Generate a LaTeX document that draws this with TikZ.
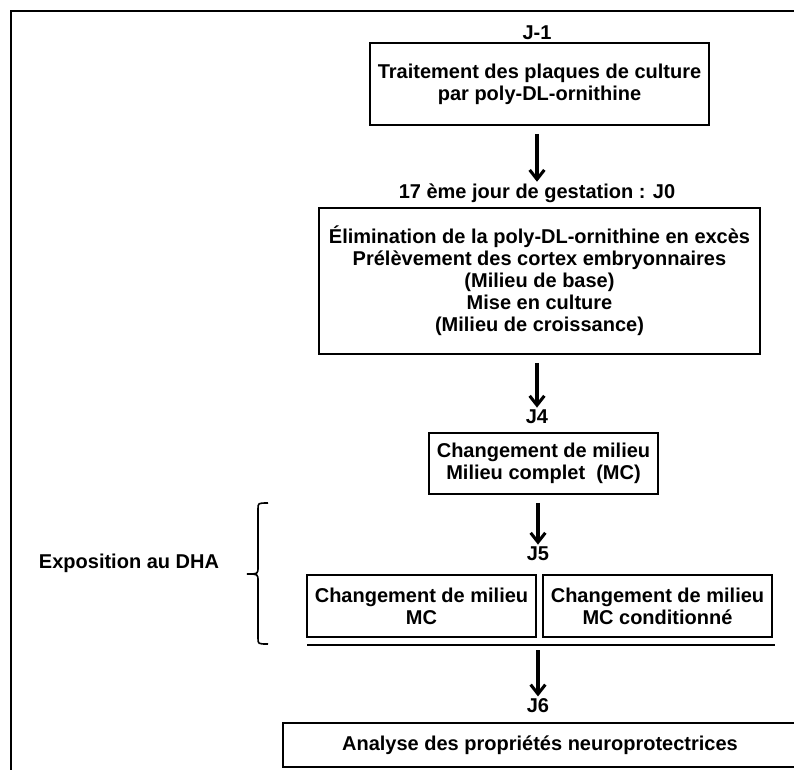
\documentclass[tikz,border=0pt]{standalone}
\usepackage{fontspec}
\setmainfont{Liberation Sans}
\usetikzlibrary{arrows.meta}

\begin{document}
\begin{tikzpicture}[x=0.75pt, y=-0.75pt,
  stepbox/.style={draw, line width=1.2pt, inner sep=0pt, align=center, font=\fontsize{15}{16.5}\selectfont\bfseries},
  daylabel/.style={anchor=base, inner sep=0pt, font=\fontsize{15}{16.5}\selectfont\bfseries},
  arr/.style={-{Straight Barb[length=7pt, width=11pt]}, line width=2.3pt, shorten >=1pt, shorten <=6pt},
]
  \useasboundingbox (0,0) rectangle (794,769);
  % cadre
  \draw[line width=1.6pt] (11,780) -- (11,11) -- (805,11);

  % J-1
  \node[daylabel] (j1) at (537,39) {J-1};
  \node[stepbox, minimum width=254pt, minimum height=61.5pt] (b1) at (539.5,84)
    {Traitement des plaques de culture\\par poly-DL-ornithine};

  % J0
  \node[daylabel] (j0) at (537,198) {17 ème jour de gestation : J0};
  \node[stepbox, minimum width=330.75pt, minimum height=109.5pt] (b2) at (539.5,281)
    {Élimination de la poly-DL-ornithine en excès\\Prélèvement des cortex embryonnaires\\(Milieu de base)\\Mise en culture\\(Milieu de croissance)};

  % J4
  \node[daylabel] (j4) at (537,423) {J4};
  \node[stepbox, minimum width=171.75pt, minimum height=45.75pt] (b3) at (543.5,463.5)
    {Changement de milieu\\Milieu complet\ \ (MC)};

  % J5
  \node[daylabel] (j5) at (538,560) {J5};
  \node[stepbox, minimum width=171.75pt, minimum height=46.5pt] (b4a) at (421.5,606)
    {Changement de milieu\\MC};
  \node[stepbox, minimum width=171.75pt, minimum height=46.5pt] (b4b) at (657.5,606)
    {Changement de milieu\\MC conditionné};
  \coordinate (ln1) at (307,645);
  \coordinate (ln2) at (775,645);
  \draw[line width=1.2pt] (ln1) -- (ln2);

  % J6
  \node[daylabel] (j6) at (538,712) {J6};
  \node[stepbox, minimum width=385.5pt, minimum height=33pt] (b5) at (540,745)
    {Analyse des propriétés neuroprotectrices};

  % DHA
  \node[stepbox, draw=none] (expo) at (129,563) {Exposition au DHA};
  \draw[line width=1.2pt] (268,503) .. controls (258,503) .. (258,509) -- (258,567)
    .. controls (258,574) .. (247,574) .. controls (258,574) .. (258,581) -- (258,638)
    .. controls (258,644) .. (268,644);

  \draw[arr] (b1.south -| j1) -- (j0);
  \draw[arr] (b2.south -| j0) -- (j4);
  \draw[arr] (b3.south -| j5) -- (j5);
  \draw[arr, shorten <=4pt] (ln1 -| j6) -- (j6);
\end{tikzpicture}
\end{document}
